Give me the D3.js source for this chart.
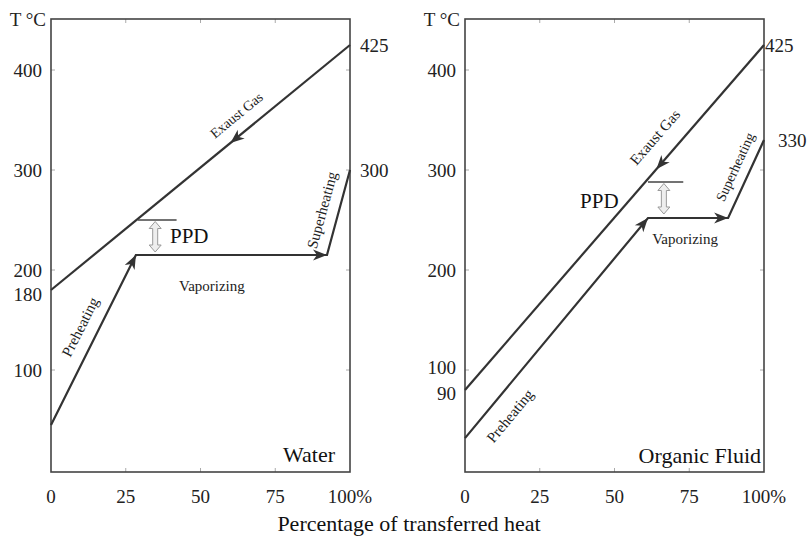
<!DOCTYPE html>
<html>
<head>
<meta charset="utf-8">
<script src="https://cdn.jsdelivr.net/npm/d3@7"></script>
<style>
  body { margin: 0; background: #fff; }
  text { font-family: "Liberation Serif", "Times New Roman", serif; fill: #222; }
</style>
</head>
<body>
<svg id="chart" width="809" height="542"></svg>
<script>
/* Temperature vs. heat transferred, water vs. organic fluid */

// shared axes
var pctTicks = [0, 25, 50, 75, 100];
var pctTickLabels = ["0", "25", "50", "75", "100%"];
var tempTicks = [100, 200, 300, 400];

// water panel
var waterPct = [0, 28.4, 92.3, 100];
var waterTemp = [45, 215, 215, 300];
var waterGasPct = [0, 100];
var waterGasTemp = [180, 425];
var waterPpdPct = [29, 42];
var waterPpdTemp = [250, 217];
var waterLeftExtra = [180];
var waterRightLabels = [425, 300];

// organic fluid panel
var organicPct = [0, 61.2, 88, 100];
var organicTemp = [36, 252, 252, 330];
var organicGasPct = [0, 100];
var organicGasTemp = [90, 425];
var organicPpdPct = [61.2, 73];
var organicPpdTemp = [288, 255];
var organicLeftExtra = [90];
var organicRightLabels = [425, 330];

(function() {

var svg = d3.select("#chart");
var lineColor = "#333";

// notched arrow head, tip at (x, y), pointing along angle (deg)
function arrowHead(g, x, y, angle) {
  g.append("path")
    .attr("d", "M0,0 L-14,-5.5 L-10,0 L-14,5.5 Z")
    .attr("transform", "translate(" + x + "," + y + ") rotate(" + angle + ")")
    .style("fill", lineColor);
}

function angleOf(x1, y1, x2, y2) {
  return Math.atan2(y2 - y1, x2 - x1) * 180 / Math.PI;
}

function drawPanel(p) {
  var x = d3.scaleLinear().domain([0, 100]).range([p.x0, p.x0 + 299]);
  var y = d3.scaleLinear().domain(p.yDomain).range(p.yRange);
  var g = svg.append("g");
  var top = 19, bottom = 472;

  // inward ticks
  var ax = g.append("g").style("stroke", "#aaa").style("stroke-width", 1);
  pctTicks.slice(1, 4).forEach(function(t) {
    ax.append("line").attr("x1", x(t)).attr("x2", x(t)).attr("y1", bottom).attr("y2", bottom - 4);
    ax.append("line").attr("x1", x(t)).attr("x2", x(t)).attr("y1", top).attr("y2", top + 4);
  });
  tempTicks.forEach(function(t) {
    ax.append("line").attr("x1", p.x0).attr("x2", p.x0 + 4).attr("y1", y(t)).attr("y2", y(t));
    ax.append("line").attr("x1", p.x0 + 299).attr("x2", p.x0 + 295).attr("y1", y(t)).attr("y2", y(t));
  });

  // frame
  g.append("rect")
    .attr("x", p.x0).attr("y", top)
    .attr("width", 299).attr("height", bottom - top)
    .style("fill", "none").style("stroke", "#444").style("stroke-width", 1.6);

  // tick labels
  pctTicks.forEach(function(t, i) {
    g.append("text").attr("x", x(t)).attr("y", 503)
      .attr("text-anchor", "middle").style("font-size", "19px")
      .text(pctTickLabels[i]);
  });
  tempTicks.concat(p.leftExtra).forEach(function(t) {
    var nudge = p.labelNudge[t] || 0;
    g.append("text").attr("x", p.x0 - 9).attr("y", y(t) + 6.5 + nudge)
      .attr("text-anchor", "end").style("font-size", "19px")
      .text(t);
  });
  p.rightLabels.forEach(function(t, i) {
    g.append("text").attr("x", p.x0 + 299 + p.rightGap[i]).attr("y", y(t) + 6.5)
      .style("font-size", "19px").text(t);
  });
  g.append("text").attr("x", p.x0 - 5).attr("y", 26)
    .attr("text-anchor", "end").style("font-size", "19px").text("T °C");

  var line = d3.line()
    .x(function(d) { return x(d[0]); })
    .y(function(d) { return y(d[1]); });

  // exhaust gas
  var gas = d3.zip(p.gasPct, p.gasTemp);
  g.append("path").attr("d", line(gas))
    .style("fill", "none").style("stroke", lineColor).style("stroke-width", 2.2);
  var gx1 = x(gas[0][0]), gy1 = y(gas[0][1]), gx2 = x(gas[1][0]), gy2 = y(gas[1][1]);
  var gf = p.gasArrowAt / 100;
  arrowHead(g, gx1 + (gx2 - gx1) * gf, gy1 + (gy2 - gy1) * gf, angleOf(gx2, gy2, gx1, gy1));

  // working fluid
  var fluid = d3.zip(p.pct, p.temp);
  g.append("path").attr("d", line(fluid))
    .style("fill", "none").style("stroke", lineColor).style("stroke-width", 2.2)
    .style("stroke-linejoin", "miter");
  for (var i = 0; i < 2; i++) {
    arrowHead(g, x(fluid[i + 1][0]), y(fluid[i + 1][1]),
      angleOf(x(fluid[i][0]), y(fluid[i][1]), x(fluid[i + 1][0]), y(fluid[i + 1][1])));
  }

  // pinch point difference
  g.append("line")
    .attr("x1", x(p.ppdPct[0])).attr("x2", x(p.ppdPct[1]))
    .attr("y1", y(p.ppdTemp[0])).attr("y2", y(p.ppdTemp[0]))
    .style("stroke", "#444").style("stroke-width", 1.4);
  var ax0 = x(p.ppdPct[0]) + (x(p.ppdPct[1]) - x(p.ppdPct[0])) * 0.45;
  var ay1 = y(p.ppdTemp[0]) + 1.5, ay2 = y(p.ppdTemp[1]) - 1;
  var hw = 6, sw = 2.5, hl = 7;
  g.append("path")
    .attr("d", "M" + ax0 + "," + ay1 +
      " L" + (ax0 + hw) + "," + (ay1 + hl) + " L" + (ax0 + sw) + "," + (ay1 + hl) +
      " L" + (ax0 + sw) + "," + (ay2 - hl) + " L" + (ax0 + hw) + "," + (ay2 - hl) +
      " L" + ax0 + "," + ay2 +
      " L" + (ax0 - hw) + "," + (ay2 - hl) + " L" + (ax0 - sw) + "," + (ay2 - hl) +
      " L" + (ax0 - sw) + "," + (ay1 + hl) + " L" + (ax0 - hw) + "," + (ay1 + hl) + " Z")
    .style("fill", "#eee").style("stroke", "#999").style("stroke-width", 1);
  g.append("text").attr("x", x(p.ppdLabel[0])).attr("y", y(p.ppdLabel[1]) + 7.5)
    .style("font-size", "21px").style("fill", "#111").text("PPD");

  // segment labels, rotated along their lines
  var segAngle = [
    angleOf(gx1, gy1, gx2, gy2),
    angleOf(x(fluid[0][0]), y(fluid[0][1]), x(fluid[1][0]), y(fluid[1][1])),
    0,
    angleOf(x(fluid[2][0]), y(fluid[2][1]), x(fluid[3][0]), y(fluid[3][1]))
  ];
  ["Exaust Gas", "Preheating", "Vaporizing", "Superheating"].forEach(function(name, i) {
    var c = p.segLabels[i];
    g.append("text")
      .attr("transform", "translate(" + x(c[0]) + "," + y(c[1]) + ") rotate(" + segAngle[i] + ")")
      .attr("text-anchor", "middle").attr("dy", "0.35em")
      .style("font-size", p.segSize[i] + "px")
      .text(name);
  });

  g.append("text").attr("x", x(p.name[1])).attr("y", y(p.name[2]))
    .attr("text-anchor", "end").style("font-size", "22px").style("fill", "#111")
    .text(p.name[0]);
}

drawPanel({
  x0: 51, yDomain: [-2, 451], yRange: [472, 19],
  pct: waterPct, temp: waterTemp,
  gasPct: waterGasPct, gasTemp: waterGasTemp, gasArrowAt: 60,
  ppdPct: waterPpdPct, ppdTemp: waterPpdTemp, ppdLabel: [39.8, 235],
  leftExtra: waterLeftExtra, labelNudge: {180: 4},
  rightLabels: waterRightLabels, rightGap: [10, 10],
  segLabels: [[62, 355], [9.7, 143], [53.8, 184], [90.6, 260]],
  segSize: [14, 15, 15, 15],
  name: ["Water", 95, 8]
});

drawPanel({
  x0: 465, yDomain: [-2, 90, 100, 451], yRange: [472, 390, 370, 19],
  pct: organicPct, temp: organicTemp,
  gasPct: organicGasPct, gasTemp: organicGasTemp, gasArrowAt: 64,
  ppdPct: organicPpdPct, ppdTemp: organicPpdTemp, ppdLabel: [38.5, 270],
  leftExtra: organicLeftExtra, labelNudge: {90: 3, 100: -3},
  rightLabels: organicRightLabels, rightGap: [1, 14],
  segLabels: [[63.5, 333], [15, 61], [73.6, 231], [90.3, 303]],
  segSize: [15, 15, 15, 14],
  name: ["Organic Fluid", 99, 8]
});

svg.append("text").attr("x", 409).attr("y", 531)
  .attr("text-anchor", "middle").style("font-size", "22px").style("fill", "#111")
  .text("Percentage of transferred heat");

})();
</script>
</body>
</html>
